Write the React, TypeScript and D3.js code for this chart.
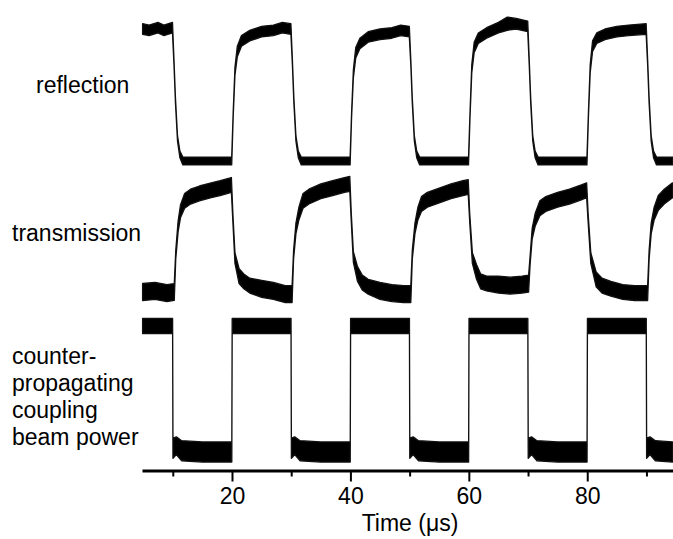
import { useEffect, useRef } from 'react'
import * as d3 from 'd3'

// each sample: [time (µs), mid level (% of swing), half-width of the noise band]
type Sample = [number, number, number]

const reflection: Sample[] = [
  [4.9, 100, 4], [6, 99, 4], [7.5, 101, 4], [8.5, 99, 4], [9.95, 101, 4],
  [10.2, 75, 2], [10.45, 46, 2], [10.8, 17, 2], [11.2, 5, 2.5], [11.7, 0, 3], [14, 0, 3], [17, 0, 3], [19.95, 0, 3],
  [20.2, 35, 2], [20.5, 68, 3], [20.9, 83, 4], [21.6, 91, 4], [23, 95, 4], [25, 98, 4], [27, 99, 4], [28.5, 101, 4], [29.95, 100, 4],
  [30.2, 75, 2], [30.45, 46, 2], [30.8, 17, 2], [31.2, 5, 2.5], [31.7, 0, 3], [35, 0, 3], [39.95, 0, 3],
  [40.2, 35, 2], [40.5, 66, 3], [40.9, 82, 4], [41.6, 89, 4], [43, 94, 4], [45, 96, 4], [47, 97, 4], [48.5, 99, 4], [49.95, 98, 4],
  [50.2, 75, 2], [50.45, 46, 2], [50.8, 17, 2], [51.2, 5, 2.5], [51.7, 0, 3], [55, 0, 3], [59.95, 0, 3],
  [60.2, 35, 2], [60.5, 70, 3], [60.9, 86, 4], [61.6, 93, 4], [63, 97, 4], [65, 101, 4], [66.5, 104, 5], [68, 104, 4], [69.95, 102, 4],
  [70.2, 75, 2], [70.45, 46, 2], [70.8, 17, 2], [71.2, 5, 2.5], [71.7, 0, 3], [75, 0, 3], [79.95, 0, 3],
  [80.2, 35, 2], [80.5, 70, 3], [80.9, 87, 4], [81.6, 93, 4], [83, 96, 4], [85, 98, 4], [87, 99, 4], [89.95, 100, 4],
  [90.2, 75, 2], [90.45, 46, 2], [90.8, 17, 2], [91.2, 5, 2.5], [91.7, 0, 3], [94.4, 0, 3],
]

const transmission: Sample[] = [
  [4.9, 0, 8], [7, 1, 8], [9, -1, 8], [10.25, 0, 8],
  [10.5, 35, 4], [10.9, 62, 5], [11.3, 76, 6], [12, 86, 7], [13, 90, 7], [14.5, 93, 7], [16.5, 96, 7], [18, 98, 7], [19.9, 101, 7],
  [20.15, 70, 4], [20.5, 32, 5], [21.2, 15, 7], [22, 10, 7], [23, 6, 7], [25, 3, 8], [27, 1, 8], [29, -2, 8], [30.15, -2, 8],
  [30.4, 35, 4], [30.8, 60, 5], [31.3, 74, 6], [32, 86, 7], [33, 90, 7], [35, 95, 7], [37, 98, 7], [39, 101, 7], [39.9, 102, 7],
  [40.15, 70, 4], [40.5, 33, 5], [41.2, 17, 7], [42, 9, 7], [43, 5, 7], [45, 1, 8], [47, -1, 8], [49, -2, 8], [50.2, -2, 8],
  [50.45, 35, 4], [50.9, 60, 5], [51.4, 74, 6], [52, 83, 7], [53, 87, 7], [55, 91, 7], [57, 95, 7], [59, 98, 7], [59.9, 99, 7],
  [60.15, 70, 4], [60.6, 32, 5], [61.3, 19, 7], [62, 10, 7], [63, 8, 7], [65, 7, 8], [67, 6, 8], [69, 7, 8], [70.1, 8, 8],
  [70.35, 30, 4], [70.7, 55, 5], [71.2, 68, 6], [72, 79, 7], [73, 83, 7], [75, 87, 7], [77, 90, 7], [79, 94, 7], [79.9, 96, 7],
  [80.15, 70, 4], [80.6, 32, 5], [81.5, 12, 7], [82.5, 6, 7], [84, 3, 7], [86, 0, 7], [88, -1, 7], [90.2, -1, 7],
  [90.45, 35, 4], [90.8, 60, 5], [91.3, 74, 6], [92, 84, 7], [93, 90, 7], [94.4, 96, 7],
]

const coupling: Sample[] = [
  [4.9, 100, 6], [7, 100, 6], [9.97, 100, 6],
  [10.03, 3, 8], [10.6, 5, 7], [11.5, 1, 8], [15, 0, 8], [19.97, 0, 8],
  [20.03, 100, 6], [25, 100, 6], [29.97, 100, 6],
  [30.03, 3, 8], [30.6, 5, 7], [31.5, 1, 8], [35, 0, 8], [39.97, 0, 8],
  [40.03, 100, 6], [45, 100, 6], [49.97, 100, 6],
  [50.03, 3, 8], [50.6, 5, 7], [51.5, 1, 8], [55, 0, 8], [59.97, 0, 8],
  [60.03, 100, 6], [65, 100, 6], [69.97, 100, 6],
  [70.03, 3, 8], [70.6, 5, 7], [71.5, 1, 8], [75, 0, 8], [79.97, 0, 8],
  [80.03, 100, 6], [85, 100, 6], [89.97, 100, 6],
  [90.03, 3, 8], [90.6, 5, 7], [91.5, 1, 8], [94.4, 0, 8],
]

const majorTicks = [20, 40, 60, 80]
const minorTicks = [10, 30, 50, 70, 90]
const timeDomain = [4.8, 94.4]
const xTitle = 'Time (μs)'

const traceLabels = [
  { lines: ['reflection'], x: 36, y: 93 },
  { lines: ['transmission'], x: 12, y: 241 },
  { lines: ['counter-', 'propagating', 'coupling', 'beam power'], x: 12, y: 364 },
]

const W = 673
const H = 539
const font = '"Liberation Sans", Arial, Helvetica, sans-serif'

export default function App() {
  const ref = useRef<SVGSVGElement>(null)

  useEffect(() => {
    if (!ref.current) return
    const svg = d3.select(ref.current)
    svg.selectAll('*').remove()

    const axisY = 470.5
    const x = d3.scaleLinear().domain(timeDomain).range([142, 672.5])

    // one panel per trace: 0 % and 100 % levels in pixels
    const panels = [
      { data: reflection, y: d3.scaleLinear().domain([0, 100]).range([161, 29]) },
      { data: transmission, y: d3.scaleLinear().domain([0, 100]).range([292, 186]) },
      { data: coupling, y: d3.scaleLinear().domain([0, 100]).range([452, 326]) },
    ]

    panels.forEach(p => {
      const band = d3.area<Sample>()
        .x(d => x(d[0]))
        .y0(d => p.y(d[1] - d[2]))
        .y1(d => p.y(d[1] + d[2]))
      svg.append('path')
        .datum(p.data)
        .attr('d', band)
        .attr('fill', '#000')
        .attr('stroke', '#111')
        .attr('stroke-width', 1.3)
        .attr('stroke-linejoin', 'round')
    })

    // minor ticks
    const minor = svg.append('g')
      .attr('transform', `translate(0,${axisY})`)
      .call(d3.axisBottom(x).tickValues(minorTicks).tickSize(6).tickSizeOuter(0).tickFormat(() => ''))
    minor.select('.domain').remove()
    minor.selectAll('line').attr('stroke', '#000').attr('stroke-width', 2)

    // major ticks + axis line
    const major = svg.append('g')
      .attr('transform', `translate(0,${axisY})`)
      .call(d3.axisBottom(x).tickValues(majorTicks).tickSize(11).tickSizeOuter(0).tickFormat(d3.format('d')))
    major.select('.domain').attr('stroke', '#000').attr('stroke-width', 3)
    major.selectAll('line').attr('stroke', '#000').attr('stroke-width', 2)
    major.selectAll('text')
      .attr('y', 33.5)
      .attr('dy', 0)
      .attr('fill', '#000')
      .style('font-size', '23px')
      .style('font-family', font)

    svg.append('text')
      .attr('x', 410)
      .attr('y', 531)
      .attr('text-anchor', 'middle')
      .style('font-size', '23px')
      .style('font-family', font)
      .attr('fill', '#000')
      .text(xTitle)

    traceLabels.forEach(l => {
      const t = svg.append('text')
        .attr('x', l.x)
        .attr('y', l.y)
        .style('font-size', '23px')
        .style('font-family', font)
        .attr('fill', '#000')
      l.lines.forEach((s, i) => {
        t.append('tspan').attr('x', l.x).attr('y', l.y + i * 27).text(s)
      })
    })
  }, [])

  return (
    <svg
      ref={ref}
      width={W}
      height={H}
      viewBox={`0 0 ${W} ${H}`}
      style={{ position: 'absolute', left: 0, top: 0, background: '#fff' }}
    />
  )
}
